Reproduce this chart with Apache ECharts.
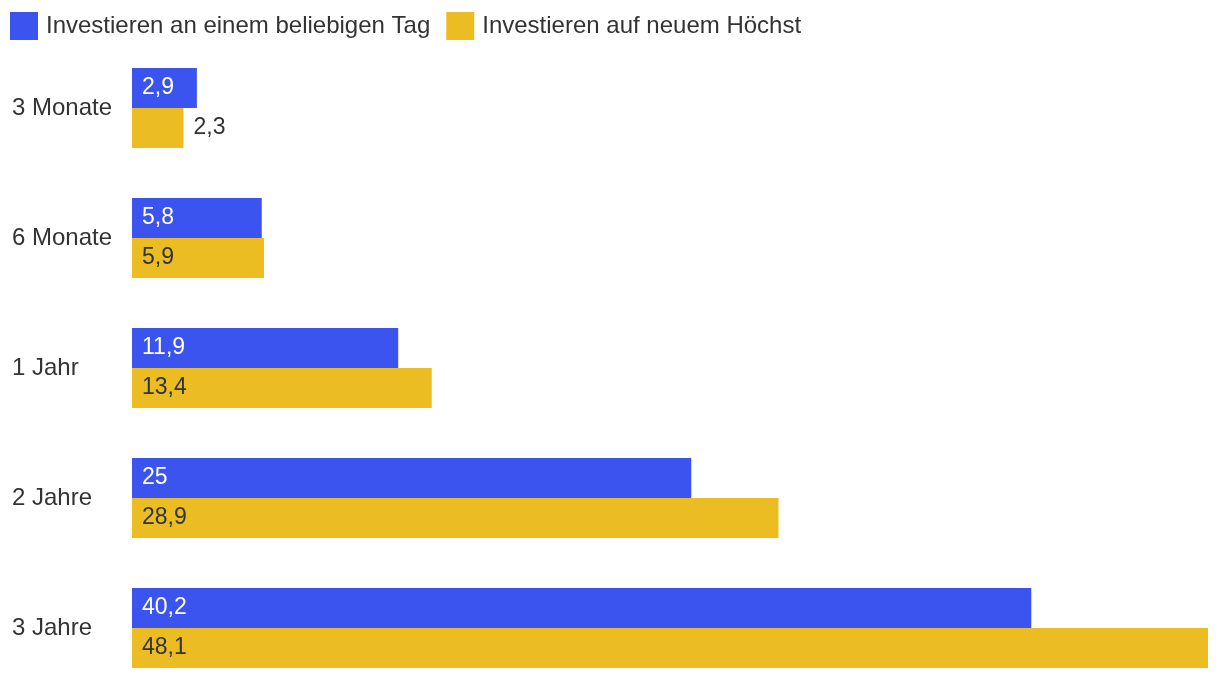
<!DOCTYPE html>
<html><head><meta charset="utf-8">
<script src="https://cdn.jsdelivr.net/npm/echarts@6/dist/echarts.min.js"></script>
<style>html,body{margin:0;padding:0;background:#fff;overflow:hidden}#c{width:1220px;height:700px}</style>
</head><body><div id="c"></div>
<script>
const categories = ['3 Monate', '6 Monate', '1 Jahr', '2 Jahre', '3 Jahre'];
const seriesNames = ['Investieren an einem beliebigen Tag', 'Investieren auf neuem Höchst'];
const anyDay = [2.9, 5.8, 11.9, 25, 40.2];
const newHigh = [2.3, 5.9, 13.4, 28.9, 48.1];

const FONT = '"Liberation Sans", Arial, sans-serif';
const fmt = v => String(v).replace('.', ',');
const chart = echarts.init(document.getElementById('c'), null, {renderer: 'canvas'});
function labelFor(val, color) {
  const small = val < 2.6;
  return {
    value: val,
    label: {
      show: true,
      position: small ? 'right' : 'insideLeft',
      distance: 10,
      color: small ? '#333' : color,
      fontSize: 23,
      fontFamily: FONT,
      formatter: p => fmt(p.value)
    }
  };
}
chart.setOption({
  animation: false,
  textStyle: {fontFamily: FONT},
  legend: {
    left: 10, top: 12, padding: 0,
    itemWidth: 28, itemHeight: 28, itemGap: 16,
    icon: 'rect',
    textStyle: {fontSize: 24, color: '#333', fontFamily: FONT, padding: [0, 0, 0, 3]},
    data: seriesNames
  },
  grid: {left: 132, width: 1076, top: 43, height: 650, containLabel: false},
  xAxis: {
    type: 'value', min: 0, max: 48.1, show: false,
    splitLine: {show: false}
  },
  yAxis: {
    type: 'category', inverse: true, data: categories,
    axisLine: {show: false}, axisTick: {show: false},
    axisLabel: {align: 'left', margin: 120, fontSize: 24, color: '#333', fontFamily: FONT}
  },
  series: [
    {
      name: seriesNames[0], type: 'bar', barWidth: 40, barGap: '0%',
      itemStyle: {color: '#3b54ef'},
      data: anyDay.map(v => labelFor(v, '#fff'))
    },
    {
      name: seriesNames[1], type: 'bar', barWidth: 40, barGap: '0%',
      itemStyle: {color: '#ebbd23'},
      data: newHigh.map(v => labelFor(v, '#333'))
    }
  ]
});
</script></body></html>
